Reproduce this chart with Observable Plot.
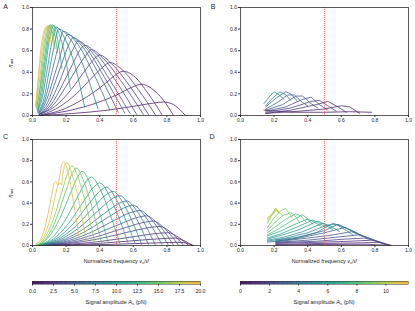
<!DOCTYPE html>
<html><head><meta charset="utf-8">
<script src="https://cdn.jsdelivr.net/npm/d3@7"></script>
<script src="https://cdn.jsdelivr.net/npm/@observablehq/plot@0.6"></script>
<style>
body{margin:0;background:#fff;}
#fig{position:relative;width:415px;height:311px;font-family:"Liberation Sans",Arial,sans-serif;color:#222;overflow:hidden;background:#fff}
#fig svg{position:absolute;overflow:visible}
.lab{position:absolute;font-size:5.6px;white-space:nowrap;line-height:1}
.lab sub{font-size:4.2px;vertical-align:-1.2px}
.plet{position:absolute;font-size:7px;line-height:1}
</style></head><body><div id="fig"></div>
<script>
// ---------- data ----------
const tickVals = [0, 0.2, 0.4, 0.6, 0.8, 1.0];
const refFreq = [0.5];
const cbTicksLeft = [0, 2.5, 5, 7.5, 10, 12.5, 15, 17.5, 20];
const cbTicksRight = [0, 2, 4, 6, 8, 10];
const cbDomainLeft = [0, 20];
const cbDomainRight = [0, 11.55];

// Panel A: amplitudes (pN) and efficiency curves [freq, eta]
const ampA = [1,1.5,2,2.5,3,3.5,4,4.5,5,5.5,6.5,7.5,8.5,10,11.5,13,14.5,16,18,20];
const curvesA = [
 [[0.05,0.00],[0.25,0.02],[0.45,0.05],[0.62,0.09],[0.72,0.115],[0.78,0.125],[0.84,0.10],[0.88,0.05],[0.91,0.00]],
 [[0.05,0.00],[0.20,0.04],[0.35,0.10],[0.50,0.19],[0.59,0.26],[0.65,0.29],[0.71,0.25],[0.78,0.14],[0.84,0.00]],
 [[0.04,0.00],[0.17,0.05],[0.30,0.15],[0.42,0.28],[0.49,0.37],[0.54,0.41],[0.60,0.37],[0.69,0.20],[0.77,0.01]],
 [[0.04,0.00],[0.15,0.07],[0.26,0.20],[0.36,0.36],[0.42,0.45],[0.46,0.49],[0.53,0.43],[0.63,0.24],[0.73,0.01]],
 [[0.04,0.01],[0.13,0.08],[0.23,0.24],[0.31,0.41],[0.36,0.51],[0.40,0.56],[0.47,0.48],[0.58,0.27],[0.69,0.01]],
 [[0.04,0.01],[0.12,0.09],[0.20,0.27],[0.27,0.45],[0.32,0.56],[0.35,0.61],[0.42,0.53],[0.54,0.29],[0.66,0.01]],
 [[0.04,0.01],[0.11,0.10],[0.18,0.29],[0.24,0.48],[0.28,0.60],[0.31,0.65],[0.38,0.57],[0.50,0.31],[0.62,0.01]],
 [[0.04,0.01],[0.10,0.11],[0.16,0.31],[0.21,0.51],[0.25,0.64],[0.27,0.69],[0.34,0.61],[0.46,0.33],[0.58,0.02]],
 [[0.04,0.02],[0.09,0.12],[0.14,0.33],[0.19,0.55],[0.22,0.67],[0.24,0.72],[0.31,0.64],[0.43,0.35],[0.55,0.02]],
 [[0.04,0.02],[0.08,0.13],[0.13,0.37],[0.17,0.58],[0.19,0.70],[0.21,0.75],[0.28,0.67],[0.40,0.37],[0.51,0.03]],
 [[0.035,0.02],[0.075,0.15],[0.115,0.40],[0.15,0.62],[0.17,0.73],[0.18,0.78],[0.25,0.70],[0.36,0.40],[0.46,0.05]],
 [[0.035,0.03],[0.07,0.17],[0.10,0.42],[0.13,0.65],[0.145,0.76],[0.155,0.80],[0.22,0.72],[0.31,0.43],[0.39,0.06]],
 [[0.03,0.03],[0.06,0.18],[0.09,0.45],[0.115,0.68],[0.13,0.78],[0.14,0.82],[0.19,0.72],[0.26,0.42],[0.31,0.08]],
 [[0.03,0.04],[0.055,0.20],[0.08,0.47],[0.10,0.70],[0.115,0.80],[0.125,0.83],[0.16,0.75],[0.20,0.50],[0.225,0.25]],
 [[0.03,0.05],[0.05,0.22],[0.075,0.50],[0.095,0.72],[0.11,0.82],[0.12,0.84],[0.145,0.74],[0.16,0.60],[0.175,0.43]],
 [[0.025,0.06],[0.045,0.24],[0.07,0.52],[0.09,0.74],[0.10,0.82],[0.11,0.84],[0.13,0.76],[0.15,0.58]],
 [[0.025,0.07],[0.045,0.27],[0.065,0.55],[0.085,0.76],[0.095,0.82],[0.105,0.84],[0.12,0.76],[0.135,0.62]],
 [[0.02,0.08],[0.04,0.30],[0.06,0.57],[0.08,0.77],[0.09,0.82],[0.10,0.83],[0.115,0.75],[0.125,0.65]],
 [[0.02,0.09],[0.035,0.33],[0.055,0.60],[0.07,0.76],[0.085,0.82],[0.095,0.83],[0.105,0.74],[0.11,0.68]],
 [[0.02,0.10],[0.035,0.36],[0.05,0.62],[0.065,0.76],[0.08,0.82],[0.09,0.83],[0.095,0.72],[0.10,0.65]]
];

// Panel B
const ampB = [0.5,1,1.5,2,2.5,3,3.5,4,4.5,5];
const curvesB = [
 [[0.14,0.05],[0.30,0.03],[0.50,0.03],[0.65,0.035],[0.78,0.03]],
 [[0.15,0.02],[0.35,0.04],[0.50,0.06],[0.60,0.09],[0.65,0.08],[0.71,0.02]],
 [[0.15,0.02],[0.30,0.05],[0.45,0.10],[0.52,0.13],[0.58,0.08],[0.63,0.03]],
 [[0.15,0.03],[0.30,0.07],[0.42,0.13],[0.47,0.14],[0.53,0.08],[0.57,0.04]],
 [[0.15,0.04],[0.27,0.08],[0.37,0.15],[0.42,0.17],[0.47,0.10],[0.52,0.05]],
 [[0.15,0.05],[0.25,0.10],[0.33,0.18],[0.37,0.18],[0.42,0.11],[0.46,0.07]],
 [[0.15,0.06],[0.22,0.12],[0.28,0.19],[0.32,0.19],[0.37,0.12],[0.40,0.09]],
 [[0.15,0.08],[0.21,0.16],[0.27,0.22],[0.30,0.20],[0.34,0.13]],
 [[0.15,0.09],[0.19,0.16],[0.235,0.22],[0.27,0.19],[0.30,0.14]],
 [[0.14,0.11],[0.17,0.17],[0.20,0.22],[0.23,0.19],[0.26,0.15]]
];

// Panel C
const ampC = [0.75,1.5,2.25,3,3.75,4.5,5.25,6,6.75,7.5,8.5,9.5,10.5,11.5,13,14.5,16,18,20];
const curvesC = [
 [[0.03,0.00],[0.45,0.01],[0.75,0.025],[0.88,0.03],[0.96,0.00]],
 [[0.03,0.00],[0.24,0.007],[0.44,0.025],[0.64,0.05],[0.77,0.065],[0.85,0.07],[0.885,0.056],[0.92,0.032],[0.95,0.00]],
 [[0.03,0.00],[0.225,0.012],[0.42,0.042],[0.615,0.086],[0.73,0.112],[0.81,0.12],[0.85,0.096],[0.89,0.054],[0.93,0.00]],
 [[0.03,0.00],[0.2125,0.018],[0.395,0.063],[0.5775,0.13],[0.687,0.167],[0.76,0.18],[0.807,0.144],[0.853,0.081],[0.90,0.00]],
 [[0.03,0.00],[0.2025,0.023],[0.375,0.08],[0.5475,0.166],[0.651,0.214],[0.72,0.23],[0.77,0.184],[0.82,0.104],[0.87,0.00]],
 [[0.03,0.00],[0.1925,0.028],[0.355,0.098],[0.5175,0.20],[0.615,0.26],[0.68,0.28],[0.733,0.224],[0.787,0.126],[0.84,0.00]],
 [[0.03,0.00],[0.1825,0.033],[0.335,0.115],[0.4875,0.238],[0.579,0.307],[0.64,0.33],[0.697,0.264],[0.753,0.149],[0.81,0.00]],
 [[0.03,0.00],[0.1725,0.038],[0.315,0.133],[0.4575,0.274],[0.543,0.353],[0.60,0.38],[0.657,0.304],[0.713,0.171],[0.77,0.01]],
 [[0.03,0.00],[0.1625,0.042],[0.295,0.147],[0.4275,0.302],[0.507,0.39],[0.56,0.42],[0.617,0.336],[0.673,0.189],[0.73,0.01]],
 [[0.03,0.00],[0.1525,0.047],[0.275,0.165],[0.3975,0.338],[0.471,0.437],[0.52,0.47],[0.577,0.376],[0.633,0.21],[0.69,0.01]],
 [[0.03,0.00],[0.1425,0.051],[0.255,0.178],[0.3675,0.367],[0.435,0.474],[0.48,0.51],[0.537,0.408],[0.593,0.23],[0.65,0.01]],
 [[0.03,0.00],[0.1325,0.055],[0.235,0.193],[0.3375,0.396],[0.399,0.51],[0.44,0.55],[0.497,0.44],[0.553,0.25],[0.61,0.02]],
 [[0.03,0.00],[0.1225,0.059],[0.215,0.207],[0.3075,0.425],[0.363,0.549],[0.40,0.59],[0.457,0.472],[0.513,0.266],[0.57,0.02]],
 [[0.03,0.00],[0.11,0.065],[0.19,0.226],[0.27,0.464],[0.318,0.60],[0.35,0.645],[0.407,0.516],[0.463,0.29],[0.52,0.02]],
 [[0.025,0.00],[0.091,0.07],[0.16,0.245],[0.229,0.504],[0.27,0.651],[0.295,0.70],[0.347,0.56],[0.398,0.315],[0.45,0.03]],
 [[0.025,0.00],[0.084,0.073],[0.1425,0.256],[0.201,0.526],[0.2365,0.679],[0.26,0.73],[0.31,0.584],[0.36,0.33],[0.41,0.03]],
 [[0.02,0.00],[0.074,0.075],[0.1275,0.263],[0.181,0.54],[0.2135,0.70],[0.235,0.75],[0.28,0.60],[0.325,0.34],[0.37,0.04]],
 [[0.02,0.01],[0.065,0.08],[0.11,0.28],[0.14,0.50],[0.155,0.58],[0.165,0.59],[0.172,0.57],[0.18,0.66],[0.195,0.77],[0.205,0.78],[0.245,0.62],[0.285,0.35],[0.32,0.04]],
 [[0.02,0.01],[0.06,0.10],[0.09,0.28],[0.115,0.48],[0.13,0.59],[0.14,0.60],[0.15,0.57],[0.16,0.64],[0.175,0.77],[0.185,0.79],[0.21,0.70],[0.245,0.40],[0.28,0.05]]
];

// Panel D
const ampD = [0.5,1,1.5,2,2.5,3,3.5,4,4.5,5,5.5,6,6.5,7,7.5,8,8.5,9,9.5,10,10.5,11];
const curvesD = [
 [[0.21,0.005],[0.50,0.01],[0.75,0.012],[0.90,0.00]],
 [[0.21,0.01],[0.50,0.02],[0.72,0.025],[0.82,0.03],[0.90,0.00]],
 [[0.21,0.02],[0.45,0.03],[0.65,0.04],[0.78,0.05],[0.84,0.03],[0.89,0.00]],
 [[0.21,0.025],[0.45,0.04],[0.62,0.06],[0.74,0.07],[0.81,0.04],[0.86,0.01]],
 [[0.21,0.03],[0.40,0.05],[0.58,0.08],[0.70,0.10],[0.77,0.07],[0.83,0.03]],
 [[0.21,0.035],[0.40,0.07],[0.55,0.10],[0.66,0.13],[0.73,0.09],[0.79,0.05]],
 [[0.21,0.04],[0.35,0.07],[0.50,0.12],[0.62,0.17],[0.69,0.12],[0.75,0.07]],
 [[0.21,0.05],[0.35,0.08],[0.50,0.14],[0.58,0.20],[0.65,0.15],[0.72,0.09]],
 [[0.16,0.03],[0.30,0.06],[0.45,0.12],[0.55,0.21],[0.62,0.17],[0.70,0.11]],
 [[0.16,0.04],[0.27,0.07],[0.40,0.12],[0.51,0.19],[0.57,0.20],[0.62,0.15],[0.67,0.10]],
 [[0.16,0.05],[0.26,0.08],[0.37,0.13],[0.49,0.21],[0.54,0.18],[0.59,0.13]],
 [[0.16,0.06],[0.25,0.10],[0.35,0.15],[0.46,0.23],[0.50,0.20],[0.55,0.15]],
 [[0.16,0.07],[0.24,0.11],[0.33,0.17],[0.43,0.24],[0.47,0.21],[0.51,0.17]],
 [[0.16,0.09],[0.23,0.13],[0.31,0.19],[0.40,0.25],[0.44,0.22],[0.48,0.18]],
 [[0.16,0.10],[0.22,0.15],[0.29,0.22],[0.37,0.29],[0.40,0.25],[0.43,0.20]],
 [[0.16,0.12],[0.21,0.18],[0.27,0.25],[0.33,0.30],[0.36,0.28],[0.39,0.22]],
 [[0.16,0.14],[0.20,0.21],[0.25,0.28],[0.30,0.31],[0.33,0.27],[0.35,0.22]],
 [[0.16,0.17],[0.20,0.26],[0.24,0.33],[0.27,0.35],[0.29,0.30],[0.31,0.26]],
 [[0.16,0.21],[0.18,0.27],[0.21,0.33],[0.23,0.31],[0.25,0.28]],
 [[0.16,0.23],[0.18,0.28],[0.20,0.32],[0.215,0.34],[0.23,0.31]],
 [[0.16,0.26],[0.19,0.30],[0.21,0.35],[0.225,0.32]],
 [[0.16,0.25],[0.18,0.28],[0.20,0.33],[0.21,0.35],[0.22,0.32],[0.23,0.30]]
];

// colour map (viridis-like, ending in orange)
const cmapStops = ["#440154","#472d7b","#3b528b","#2c728e","#21918c","#28ae80","#5ec962","#b2d435","#f2b13a"];
const cmap = d3.interpolateRgbBasis(cmapStops);

// ---------- drawing ----------
const fig = document.getElementById("fig");
const FONT = '"Liberation Sans", Arial, sans-serif';

function panel({curves, amps, cdomain, curve, left, top, frameH}) {
  const rows = [];
  curves.forEach((pts, i) => pts.forEach(([x, y]) => rows.push({x, y, a: amps[i], id: i})));
  const svg = Plot.plot({
    width: 207, height: 7 + frameH + 11,
    marginLeft: 32, marginRight: 7, marginTop: 7, marginBottom: 11,
    style: {fontFamily: FONT, fontSize: "5px", color: "#222", background: "transparent", overflow: "visible"},
    x: {domain: [0, 1]},
    y: {domain: [0, 1]},
    color: {type: "linear", domain: cdomain, interpolate: cmap},
    marks: [
      Plot.line(rows, {x: "x", y: "y", z: "id", stroke: "a", strokeWidth: 0.75, curve}),
      Plot.ruleX(refFreq, {stroke: "#f25555", strokeWidth: 0.8, strokeDasharray: "1.2,0.8"}),
      Plot.frame({stroke: "#333", strokeWidth: 0.8}),
      Plot.axisX({ticks: tickVals, tickFormat: d3.format(".1f"), tickSize: 2, tickPadding: 1, label: null, stroke: "#333"}),
      Plot.axisY({ticks: tickVals, tickFormat: d3.format(".1f"), tickSize: 2, tickPadding: 1.5, label: null, stroke: "#333"})
    ]
  });
  svg.style.left = left + "px";
  svg.style.top = top + "px";
  fig.appendChild(svg);
}

panel({curves: curvesA, amps: ampA, cdomain: cbDomainLeft, curve: "monotone-x", left: 0, top: 0, frameH: 108});
panel({curves: curvesB, amps: ampB, cdomain: cbDomainRight, curve: "linear", left: 208, top: 0, frameH: 108});
panel({curves: curvesC, amps: ampC, cdomain: cbDomainLeft, curve: "monotone-x", left: 0, top: 132, frameH: 106});
panel({curves: curvesD, amps: ampD, cdomain: cbDomainRight, curve: "linear", left: 208, top: 132, frameH: 106});

function colorbar({domain, ticks, fmt, left, top}) {
  const step = (domain[1] - domain[0]) / 300;
  const vals = d3.range(domain[0], domain[1], step);
  const svg = Plot.plot({
    width: 207, height: 3 + 11,
    marginLeft: 32, marginRight: 7, marginTop: 0, marginBottom: 11,
    style: {fontFamily: FONT, fontSize: "5px", color: "#222", background: "transparent", overflow: "visible"},
    x: {domain},
    y: {domain: [0, 1], range: [3, 0], axis: null},
    color: {type: "linear", domain, interpolate: cmap},
    marks: [
      Plot.rect(vals, {x1: d => d, x2: d => Math.min(domain[1], d + step * 1.6), y1: 0, y2: 1, fill: d => d}),
      Plot.frame({stroke: "#333", strokeWidth: 0.5}),
      Plot.axisX({ticks, tickFormat: fmt, tickSize: 1.5, tickPadding: 3, label: null, stroke: "#333"})
    ]
  });
  svg.style.left = left + "px";
  svg.style.top = top + "px";
  fig.appendChild(svg);
}
colorbar({domain: cbDomainLeft, ticks: cbTicksLeft, fmt: d3.format(".1f"), left: 0, top: 281});
colorbar({domain: cbDomainRight, ticks: cbTicksRight, fmt: d3.format("d"), left: 208, top: 281});

// HTML labels
function lab(html, cx, cy, rot, cls) {
  const d = document.createElement("div");
  d.className = cls || "lab";
  d.innerHTML = html;
  d.style.left = cx + "px";
  d.style.top = cy + "px";
  d.style.transform = "translate(-50%,-50%)" + (rot ? " rotate(" + rot + "deg)" : "");
  fig.appendChild(d);
}
const yLabel = "<i>η</i><sub>out</sub>";
const xLabel = "Normalized frequency <i>ν</i><sub>s</sub>/<i>ν̄</i>";
const cbLabel = "Signal amplitude <i>A</i><sub>s</sub> (pN)";
lab(yLabel, 11, 63, -90);
lab(yLabel, 11, 193, -90);
lab(xLabel, 116, 262);
lab(xLabel, 324, 262);
lab(cbLabel, 116, 303);
lab(cbLabel, 324, 303);
const letters = [["A", 5.5, 6], ["B", 213, 6], ["C", 5.5, 135.5], ["D", 212, 135.5]];
letters.forEach(([t, x, y]) => lab(t, x, y, 0, "plet"));
</script></body></html>
